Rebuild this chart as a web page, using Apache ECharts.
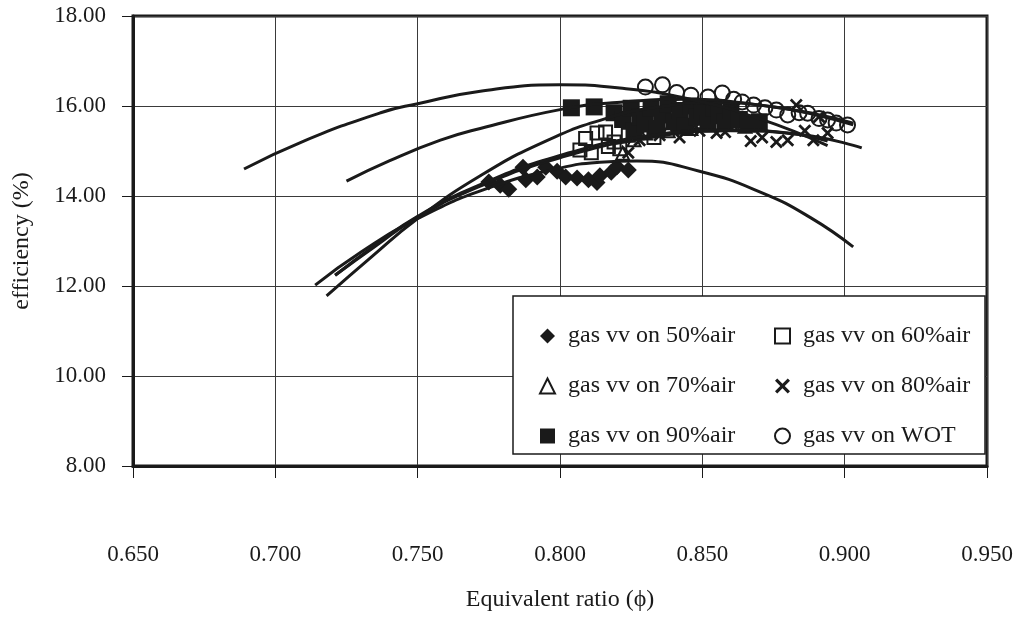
<!DOCTYPE html>
<html>
<head>
<meta charset="utf-8">
<script src="https://cdn.jsdelivr.net/npm/echarts@6/dist/echarts.min.js"></script>
<style>
  html, body { margin: 0; padding: 0; background: #fff; }
  #chart { width: 1022px; height: 619px; }
</style>
</head>
<body>
<div id="chart"></div>
<script>
// Axis tick labels
const xTickLabels = ['0.650', '0.700', '0.750', '0.800', '0.850', '0.900', '0.950'];
const yTickLabels = ['8.00', '10.00', '12.00', '14.00', '16.00', '18.00'];

// Series names
const seriesNames = ['gas vv on 50%air', 'gas vv on 60%air', 'gas vv on 70%air',
                     'gas vv on 80%air', 'gas vv on 90%air', 'gas vv on WOT'];

// Measured points: equivalent ratio (phi) and efficiency (%)
const phi50 = [0.775, 0.779, 0.782, 0.787, 0.788, 0.792, 0.795, 0.799, 0.802, 0.806, 0.810, 0.813, 0.814, 0.818, 0.820, 0.824];
const eff50 = [14.31, 14.24, 14.15, 14.64, 14.36, 14.42, 14.64, 14.55, 14.42, 14.40, 14.36, 14.30, 14.45, 14.53, 14.65, 14.58];

const phi60 = [0.807, 0.809, 0.811, 0.813, 0.816, 0.817, 0.819, 0.821, 0.824, 0.827, 0.830, 0.833];
const eff60 = [15.02, 15.28, 14.96, 15.40, 15.42, 15.10, 15.20, 15.05, 15.35, 15.45, 15.60, 15.30];

const phi70 = [0.822, 0.826, 0.830, 0.834, 0.838, 0.842, 0.846, 0.850, 0.855, 0.860, 0.865];
const eff70 = [14.95, 15.25, 15.40, 15.55, 15.45, 15.60, 15.50, 15.65, 15.76, 15.60, 15.55];

const phi80 = [0.824, 0.828, 0.835, 0.842, 0.849, 0.855, 0.858, 0.861, 0.867, 0.871, 0.876, 0.880, 0.883, 0.886, 0.889, 0.891, 0.894];
const eff80 = [14.96, 15.24, 15.35, 15.30, 15.45, 15.40, 15.42, 15.62, 15.22, 15.30, 15.20, 15.24, 16.02, 15.45, 15.24, 15.76, 15.40];

const phi90 = [0.804, 0.812, 0.819, 0.822, 0.825, 0.826, 0.828, 0.830, 0.832, 0.834, 0.836, 0.838, 0.840, 0.842, 0.844, 0.846, 0.848, 0.850, 0.852, 0.854, 0.856, 0.858, 0.860, 0.863, 0.866, 0.870];
const eff90 = [15.96, 15.98, 15.85, 15.70, 15.95, 15.45, 15.75, 15.60, 15.95, 15.50, 15.80, 16.05, 15.65, 15.90, 15.55, 16.00, 15.75, 15.90, 15.60, 15.95, 15.80, 15.65, 15.90, 15.70, 15.60, 15.65];

const phiWOT = [0.830, 0.836, 0.841, 0.846, 0.852, 0.857, 0.861, 0.864, 0.868, 0.872, 0.876, 0.880, 0.884, 0.887, 0.891, 0.894, 0.897, 0.901];
const effWOT = [16.42, 16.47, 16.30, 16.24, 16.20, 16.29, 16.15, 16.09, 16.02, 15.96, 15.91, 15.80, 15.85, 15.84, 15.72, 15.69, 15.62, 15.58];

// Trend curves (points along each fitted curve)
const trendPhi50 = [0.714, 0.730, 0.750, 0.775, 0.800, 0.814, 0.827, 0.849, 0.871, 0.888, 0.903];
const trendEff50 = [12.02, 12.75, 13.50, 14.18, 14.62, 14.75, 14.78, 14.55, 14.07, 13.52, 12.87];

const trendPhi60 = [0.721, 0.735, 0.750, 0.772, 0.800, 0.830, 0.860, 0.885, 0.906];
const trendEff60 = [12.24, 12.88, 13.53, 14.22, 14.85, 15.28, 15.45, 15.36, 15.07];

const trendPhi70 = [0.721, 0.735, 0.750, 0.772, 0.800, 0.830, 0.860, 0.880, 0.894];
const trendEff70 = [12.24, 12.90, 13.55, 14.25, 14.90, 15.33, 15.47, 15.40, 15.22];

const trendPhi80 = [0.718, 0.734, 0.750, 0.772, 0.795, 0.816, 0.835, 0.855, 0.875, 0.890, 0.903];
const trendEff80 = [11.78, 12.66, 13.50, 14.45, 15.22, 15.72, 15.98, 16.08, 15.98, 15.80, 15.58];

const trendPhi90 = [0.725, 0.740, 0.758, 0.772, 0.800, 0.820, 0.845, 0.870, 0.890, 0.903];
const trendEff90 = [14.33, 14.78, 15.24, 15.50, 15.92, 16.08, 16.15, 16.02, 15.82, 15.62];

const trendPhiWOT = [0.689, 0.710, 0.737, 0.750, 0.772, 0.800, 0.821, 0.845, 0.870, 0.894];
const trendEffWOT = [14.60, 15.22, 15.85, 16.05, 16.33, 16.47, 16.40, 16.16, 15.72, 15.12];

const X_MIN = 0.65, X_MAX = 0.95, X_STEP = 0.05;
const Y_MIN = 8, Y_MAX = 18, Y_STEP = 2;

const INK = '#1a1a1a';
const FONT = '"Liberation Serif", "Times New Roman", serif';

const zip = (xs, ys) => xs.map((x, i) => [x, ys[i]]);

const crossPath = 'path://M0,1.5 L1.5,0 L5,3.5 L8.5,0 L10,1.5 L6.5,5 L10,8.5 L8.5,10 L5,6.5 L1.5,10 L0,8.5 L3.5,5 Z';

const HOLLOW = 'rgba(255,255,255,0)';
const markerStyles = [
  { symbol: 'diamond',  size: 17, itemStyle: { color: INK, opacity: 1 } },
  { symbol: 'rect',     size: 13, itemStyle: { color: HOLLOW, borderColor: INK, borderWidth: 2, opacity: 1 } },
  { symbol: 'triangle', size: 13, itemStyle: { color: HOLLOW, borderColor: INK, borderWidth: 2, opacity: 1 } },
  { symbol: crossPath,  size: 13, itemStyle: { color: INK, opacity: 1 } },
  { symbol: 'rect',     size: 17, itemStyle: { color: INK, opacity: 1 } },
  { symbol: 'circle',   size: 15, itemStyle: { color: HOLLOW, borderColor: INK, borderWidth: 2, opacity: 1 } }
];

const pointSets = [zip(phi50, eff50), zip(phi60, eff60), zip(phi70, eff70),
                   zip(phi80, eff80), zip(phi90, eff90), zip(phiWOT, effWOT)];
const trendSets = [zip(trendPhi50, trendEff50), zip(trendPhi60, trendEff60), zip(trendPhi70, trendEff70),
                   zip(trendPhi80, trendEff80), zip(trendPhi90, trendEff90), zip(trendPhiWOT, trendEffWOT)];

const series = [];
pointSets.forEach((pts, i) => {
  const m = markerStyles[i];
  series.push({
    name: seriesNames[i],
    type: 'scatter',
    data: pts,
    symbol: m.symbol,
    symbolSize: m.size,
    itemStyle: m.itemStyle,
    emphasis: { disabled: true },
    z: 3
  });
});
trendSets.forEach((pts, i) => {
  series.push({
    name: 'trend ' + seriesNames[i],
    type: 'line',
    data: pts,
    smooth: 0.5,
    showSymbol: false,
    silent: true,
    lineStyle: { color: INK, width: 3 },
    z: 4
  });
});

const legendCommon = {
  orient: 'vertical',
  top: 318,
  itemWidth: 15,
  itemHeight: 15,
  itemGap: 24,
  z: 20,
  selectedMode: false,
  textStyle: { fontFamily: FONT, fontSize: 24, color: INK, lineHeight: 26, padding: [0, 0, 0, 8] }
};

const chart = echarts.init(document.getElementById('chart'), null, { renderer: 'canvas' });
chart.setOption({
  backgroundColor: '#fff',
  animation: false,
  grid: {
    left: 133, right: 35, top: 16, bottom: 153,
    show: true, borderColor: INK, borderWidth: 3, backgroundColor: 'transparent'
  },
  xAxis: {
    type: 'value',
    min: X_MIN, max: X_MAX, interval: X_STEP,
    name: 'Equivalent ratio (\u03D5)',
    nameLocation: 'middle',
    nameGap: 122,
    nameTextStyle: { fontFamily: FONT, fontSize: 24, color: INK },
    axisLine: { show: true, lineStyle: { color: INK, width: 3 } },
    axisTick: { show: true, length: 12, lineStyle: { color: INK, width: 1 } },
    axisLabel: {
      margin: 77, fontFamily: FONT, fontSize: 23, color: INK,
      formatter: v => xTickLabels[Math.round((v - X_MIN) / X_STEP)]
    },
    splitLine: { show: true, lineStyle: { color: '#3a3a3a', width: 1 } }
  },
  yAxis: {
    type: 'value',
    min: Y_MIN, max: Y_MAX, interval: Y_STEP,
    name: 'efficiency (%)',
    nameLocation: 'middle',
    nameGap: 99,
    nameTextStyle: { fontFamily: FONT, fontSize: 24, color: INK },
    axisLine: { show: true, lineStyle: { color: INK, width: 3 } },
    axisTick: { show: true, length: 11, lineStyle: { color: INK, width: 1 } },
    axisLabel: {
      margin: 27, fontFamily: FONT, fontSize: 23, color: INK,
      formatter: v => yTickLabels[Math.round((v - Y_MIN) / Y_STEP)]
    },
    splitLine: { show: true, lineStyle: { color: '#3a3a3a', width: 1 } }
  },
  legend: [
    Object.assign({ left: 534, data: [seriesNames[0], seriesNames[2], seriesNames[4]] }, legendCommon),
    Object.assign({ left: 769, data: [seriesNames[1], seriesNames[3], seriesNames[5]] }, legendCommon)
  ],
  graphic: [{
    type: 'rect',
    z: 10,
    shape: { x: 513, y: 296, width: 472, height: 158 },
    style: { fill: '#fff', stroke: INK, lineWidth: 1.5 }
  }],
  series: series
});
</script>
</body>
</html>
